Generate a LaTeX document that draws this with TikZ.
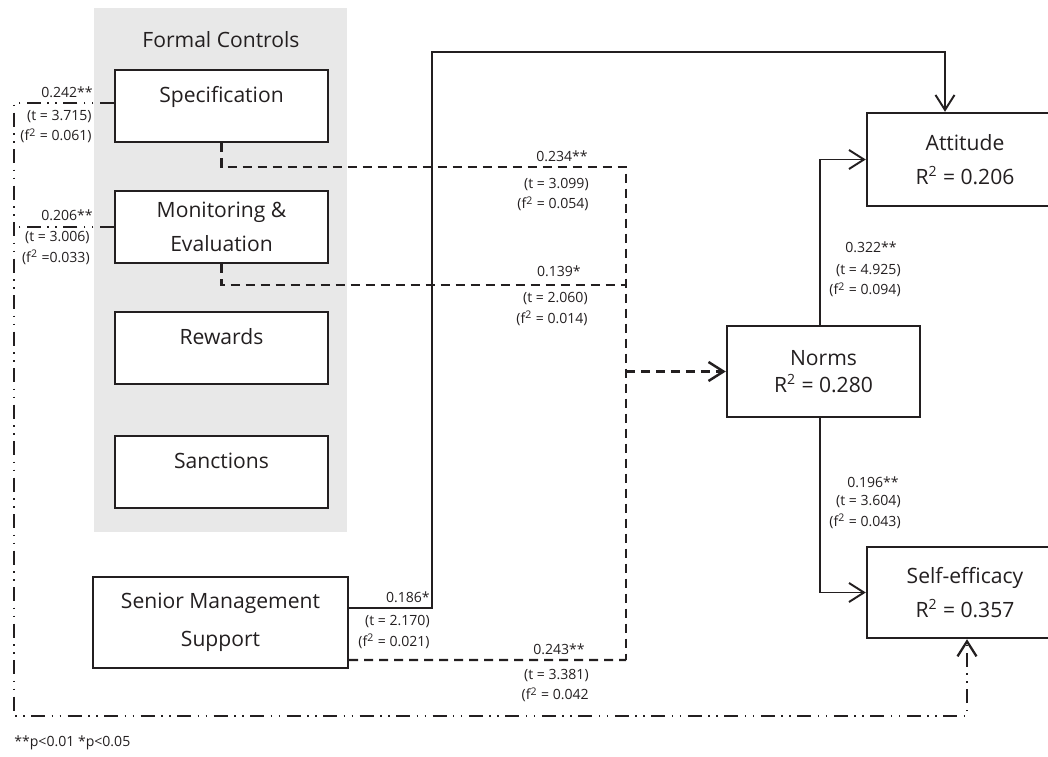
\documentclass[tikz,border=0pt]{standalone}
\usepackage{fontspec}
\setmainfont{Open Sans}
\usetikzlibrary{arrows.meta}

\definecolor{ink}{HTML}{231F20}
\definecolor{panelBg}{HTML}{E8E8E8}

\newcommand{\boxfont}{\fontsize{12}{19}\selectfont}
\newcommand{\statfont}{\fontsize{8}{11.4}\selectfont}
\newcommand{\fsq}{\textsuperscript{2}}

\begin{document}
\begin{tikzpicture}[x=0.02cm, y=-0.02cm,
    box/.style={draw=ink, line width=1.4pt, fill=white, align=center, inner sep=0pt, font=\boxfont, text=ink},
    lifted/.style={text depth=0.45cm},
    stat/.style={font=\statfont, text=ink, inner sep=0pt, align=right, anchor=east},
    solidln/.style={draw=ink, line width=1.1pt},
    dsh/.style={draw=ink, line width=1.4pt, dash pattern=on 0.18cm off 0.12cm},
    ddot/.style={draw=ink, line width=1.3pt, dash pattern=on 0.28cm off 0.13cm on 0.03cm off 0.13cm on 0.03cm off 0.13cm},
    tip/.style={-{Straight Barb[length=0.3cm, width=0.38cm]}}]
    \useasboundingbox (0,0) rectangle (1048,757);

    % formal controls panel
    \fill[panelBg] (94,8) rectangle (347,532);
    \node[font=\boxfont, text=ink] (title) at (221,40) {Formal Controls};

    % constructs
    \node[box, lifted, minimum width=4.26cm, minimum height=1.44cm] (spec) at (221.5,106) {Specification};
    \node[box, minimum width=4.26cm, minimum height=1.44cm] (mon) at (221.5,227) {Monitoring \&\\Evaluation};
    \node[box, lifted, minimum width=4.26cm, minimum height=1.44cm] (rewards) at (221.5,348) {Rewards};
    \node[box, lifted, minimum width=4.26cm, minimum height=1.44cm] (sanctions) at (221.5,472) {Sanctions};
    \node[box, minimum width=5.1cm, minimum height=1.82cm] (senior) at (220.5,622.5) {Senior Management\\[2.5pt]Support};
    \node[box, minimum width=3.86cm, minimum height=1.82cm] (norms) at (823.5,371.5) {Norms\\[-4pt]R\fsq{} = 0.280};
    \node[box, minimum width=3.92cm, minimum height=1.86cm] (attitude) at (965,159.5) {Attitude\\R\fsq{} = 0.206};
    \node[box, minimum width=3.92cm, minimum height=1.82cm] (selfeff) at (965,592.5) {Self-efficacy\\R\fsq{} = 0.357};

    % turning points
    \coordinate (riser) at (432,52);
    \coordinate (busT) at (626,167);
    \coordinate (busM) at (626,285);
    \coordinate (busB) at (626,660);
    \coordinate (railL) at (14,716);

    % senior management -> attitude
    \draw[solidln, tip] ([yshift=0.29cm]senior.east) -| (riser) -| ([xshift=-0.4cm]attitude.north);

    % controls -> norms
    \draw[dsh] (spec.south) |- (busT) -- (busB);
    \draw[dsh] (mon.south) |- (busM);
    \draw[dsh] ([yshift=-0.75cm]senior.east) -- (busB);
    \draw[dsh, tip] (busT |- norms.west) -- (norms.west);

    % controls -> self-efficacy
    \draw[ddot, tip] ([yshift=0.06cm]spec.west) -| (railL) -| ([xshift=0.04cm]selfeff.south);
    \draw[ddot] (mon.west) -- (mon.west -| railL);

    % norms -> outcomes
    \draw[solidln, tip] ([xshift=-0.07cm]norms.north) |- (attitude.west);
    \draw[solidln, tip] ([xshift=-0.07cm]norms.south) |- (selfeff.west);

    % path estimates
    \node[stat] (b1) at (93,92) {0.242**};
    \node[stat] (s1) at (92,127) {(t = 3.715)\\(f\fsq{} = 0.061)};
    \node[stat] (b2) at (93,215) {0.206**};
    \node[stat] (s2) at (90,248) {(t = 3.006)\\(f\fsq{} =0.033)};
    \node[stat] (b3) at (588,156) {0.234**};
    \node[stat] (s3) at (589,195) {(t = 3.099)\\(f\fsq{} = 0.054)};
    \node[stat] (b4) at (581,271) {0.139*};
    \node[stat] (s4) at (588,309) {(t = 2.060)\\(f\fsq{} = 0.014)};
    \node[stat] (b5) at (430,597) {0.186*};
    \node[stat] (s5) at (430,632) {(t = 2.170)\\(f\fsq{} = 0.021)};
    \node[stat] (b6) at (585,649) {0.243**};
    \node[stat] (s6) at (589,686) {(t = 3.381)\\(f\fsq{} = 0.042};
    \node[stat] (b7) at (897,247) {0.322**};
    \node[stat] (s7) at (901,281) {(t = 4.925)\\(f\fsq{} = 0.094)};
    \node[stat] (b8) at (899,482) {0.196**};
    \node[stat] (s8) at (901,512) {(t = 3.604)\\(f\fsq{} = 0.043)};

    % significance note
    \node[font=\statfont, text=ink, inner sep=0pt, anchor=west] (note) at (14,743) {**p<0.01 *p<0.05};
\end{tikzpicture}
\end{document}
